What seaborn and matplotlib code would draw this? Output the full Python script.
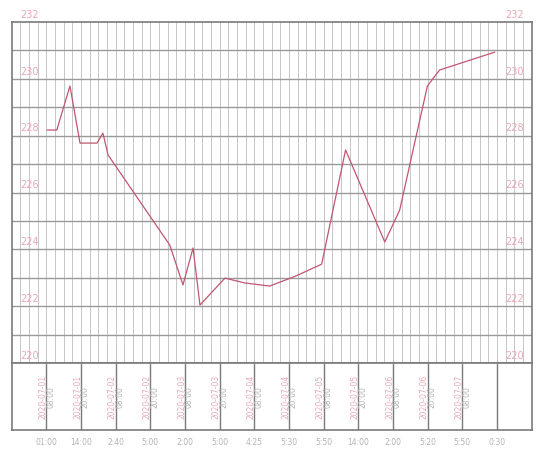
import numpy as np
import pandas as pd
import seaborn as sns
import matplotlib.pyplot as plt

# water level readings (position in hour-columns, level)
pos = [1.02, 1.30, 1.68, 1.97, 2.46, 2.63, 2.78, 4.56, 4.94, 5.23, 5.43,
       6.15, 6.72, 7.44, 8.19, 8.94, 9.63, 10.76, 11.19, 11.99, 12.34, 13.93]
level = [228.2, 228.2, 229.75, 227.74, 227.74, 228.09, 227.32, 224.15, 222.75,
         224.05, 222.04, 222.99, 222.82, 222.71, 223.06, 223.48, 227.5, 224.26,
         225.38, 229.75, 230.31, 230.94]

y_ticks = [220, 222, 224, 226, 228, 230, 232]
band_dates = ["2020-07-01", "2020-07-01", "2020-07-02", "2020-07-02", "2020-07-03",
              "2020-07-03", "2020-07-04", "2020-07-04", "2020-07-05", "2020-07-05",
              "2020-07-06", "2020-07-06", "2020-07-07"]
band_times = ["08:00", "20:00", "08:00", "20:00", "08:00", "20:00", "08:00",
              "20:00", "08:00", "20:00", "08:00", "20:00", "08:00"]
bottom_labels = ["01:00", "14:00", "2:40", "5:00", "2:00", "5:00", "4:25",
                 "5:30", "5:50", "14:00", "2:00", "5:20", "5:50", "0:30"]

df = pd.DataFrame({"pos": pos, "level": level})

sns.set_style("white")
plt.rcParams['font.family'] = ['DejaVu Sans']

pink = "#eaa8b6"
grid_major = "#999999"
grid_minor = "#c6c6c6"

fig = plt.figure(figsize=(5.4, 4.59), dpi=100)
ax = fig.add_axes([0.0217, 0.209, 0.963, 0.743])

ax.set_xlim(0, 15)
ax.set_ylim(220, 232)

for v in np.arange(0.25, 15, 0.25):
    ax.axvline(v, color=grid_minor, lw=0.7, zorder=0)
for h in range(221, 232):
    ax.axhline(h, color=grid_major, lw=1.0, zorder=0)

sns.lineplot(data=df, x="pos", y="level", color="#c0566f", lw=0.9, ax=ax)

ax.set_xticks([])
ax.set_yticks([])
ax.set_xlabel("")
ax.set_ylabel("")
for s in ax.spines.values():
    s.set_color("#7a7a7a")
    s.set_linewidth(1.2)

for t in y_ticks:
    ax.text(0.25, t + 0.08, str(t), color=pink, fontsize=7, ha="left", va="bottom",
            clip_on=False)
    ax.text(14.25, t + 0.08, str(t), color=pink, fontsize=7, ha="left", va="bottom",
            clip_on=False)

# bottom band with rotated date labels
bx = fig.add_axes([0.0217, 0.063, 0.963, 0.146])
bx.set_xlim(0, 15)
bx.set_ylim(0, 1)
bx.set_xticks([])
bx.set_yticks([])
for s in bx.spines.values():
    s.set_color("#7a7a7a")
    s.set_linewidth(1.2)
for i in range(1, 15):
    bx.axvline(i, color="#7a7a7a", lw=1.0)
for i, (d, t) in enumerate(zip(band_dates, band_times)):
    bx.text(i + 1 - 0.1, 0.5, d, rotation=90, ha="center", va="center",
            fontsize=5.5, color=pink)
    bx.text(i + 1 + 0.12, 0.5, t, rotation=90, ha="center", va="center",
            fontsize=5.5, color="#b4b4b4")
for i, lab in enumerate(bottom_labels):
    bx.text(i + 1, -0.12, lab, ha="center", va="top", fontsize=5.5, color="#b4b4b4")

fig.savefig("out.png", dpi=100)
